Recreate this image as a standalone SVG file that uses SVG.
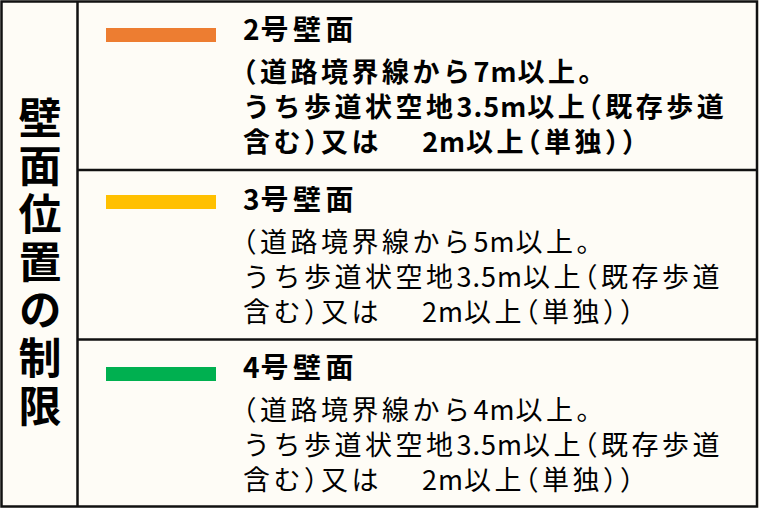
<svg xmlns="http://www.w3.org/2000/svg" width="759" height="508" viewBox="0 0 759 508">
<style>
.bg{fill:#FEFCF6}
.ln{stroke:#111;stroke-width:2.5;fill:none}
.t{font-family:"Noto Sans CJK JP","Noto Sans",sans-serif;font-size:27px;letter-spacing:3.5px;fill:#000;font-feature-settings:"halt"}
.b{font-weight:bold}
.hd{font-size:28px;letter-spacing:4.5px}
.a{letter-spacing:1px}
.side{font-family:"Noto Sans CJK JP","Noto Sans",sans-serif;font-size:43px;font-weight:bold;fill:#000;letter-spacing:5px}
</style>
<rect class="bg" x="0" y="0" width="759" height="508"/>
<g id="frame">
<rect class="ln" x="1.5" y="1.5" width="755.5" height="505"/>
<line class="ln" x1="77.5" y1="1.5" x2="77.5" y2="506.5"/>
<line class="ln" x1="77.5" y1="170" x2="757" y2="170"/>
<line class="ln" x1="77.5" y1="339.5" x2="757" y2="339.5"/>
</g>
<g id="title">
<text class="side" x="40" y="96" writing-mode="vertical-rl">壁面位置の制限</text>
</g>
<g id="row2">
<rect x="106" y="28" width="110" height="14" fill="#ED7D31"/>
<text class="t b hd" x="243" y="40"><tspan class="a">2</tspan>号壁面</text>
<text class="t b" x="243" y="82">（道路境界線から<tspan class="a">7m</tspan>以上。</text>
<text class="t b" x="243" y="117">うち歩道状空地<tspan class="a">3.5m</tspan>以上（既存歩道</text>
<text class="t b" x="243" y="152">含む）又は　 <tspan class="a">2m</tspan>以上（単独））</text>
</g>
<g id="row3">
<rect x="106" y="195" width="110" height="14" fill="#FFC000"/>
<text class="t b hd" x="243" y="210"><tspan class="a">3</tspan>号壁面</text>
<text class="t" x="243" y="252">（道路境界線から<tspan class="a">5m</tspan>以上。</text>
<text class="t" x="243" y="287">うち歩道状空地<tspan class="a">3.5m</tspan>以上（既存歩道</text>
<text class="t" x="243" y="322">含む）又は　 <tspan class="a">2m</tspan>以上（単独））</text>
</g>
<g id="row4">
<rect x="106" y="367" width="110" height="14" fill="#00B050"/>
<text class="t b hd" x="243" y="378"><tspan class="a">4</tspan>号壁面</text>
<text class="t" x="243" y="420">（道路境界線から<tspan class="a">4m</tspan>以上。</text>
<text class="t" x="243" y="455">うち歩道状空地<tspan class="a">3.5m</tspan>以上（既存歩道</text>
<text class="t" x="243" y="490">含む）又は　 <tspan class="a">2m</tspan>以上（単独））</text>
</g>
<g id="connectors"></g>
</svg>
